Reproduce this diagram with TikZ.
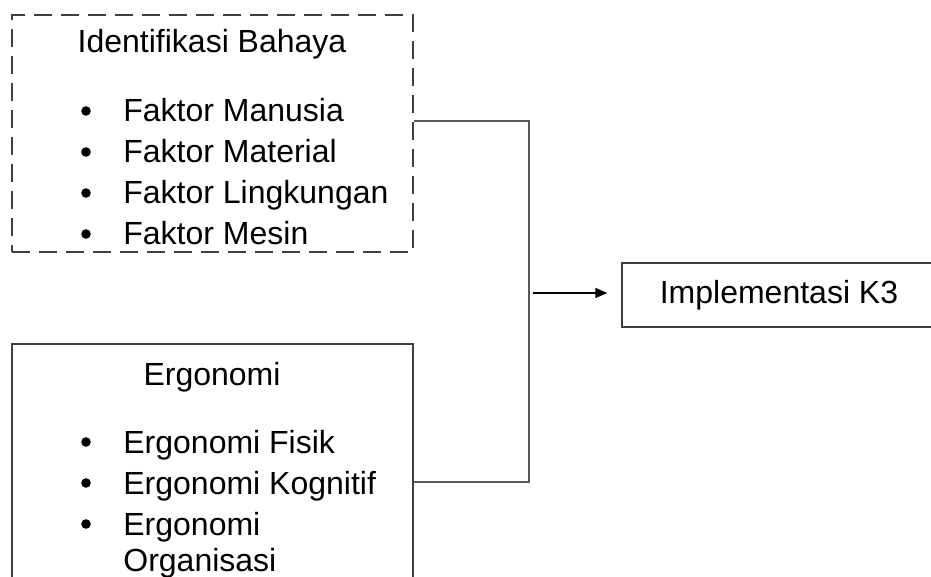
\documentclass[tikz,border=0pt]{standalone}
\usepackage{fontspec}
\setmainfont{Liberation Sans}
\usetikzlibrary{arrows.meta}

\tikzset{
  box/.style={draw=black!75, line width=0.7pt, rectangle, inner sep=0pt},
  dashbox/.style={box, dash pattern=on 9pt off 4.5pt},
  label/.style={font=\fontsize{16}{20}\selectfont, inner sep=0pt},
  item/.style={label, anchor=base west},
  link/.style={draw=black!65, line width=0.6pt},
  arr/.style={draw=black, line width=0.7pt, -{Triangle[length=6pt,width=5pt]}}
}

\begin{document}
\begin{tikzpicture}[x=0.5pt,y=-0.5pt]
\useasboundingbox (0,0) rectangle (931,577);
\clip (0,0) rectangle (931,577);

% boxes
\node[dashbox, minimum width=200.5pt, minimum height=118.5pt] (hazard) at (212.5,133.5) {};
\node[box, minimum width=200.5pt, minimum height=130pt] (ergo) at (212.5,474) {};
\node[box, minimum width=157pt, minimum height=32pt, label] (impl) at (779,295) {Implementasi K3};

% titles
\node[label, anchor=base] (hztitle) at (212,53) {Identifikasi Bahaya};
\node[label, anchor=base] (ergtitle) at (212,385) {Ergonomi};

% lists
\foreach \txt [count=\i] in {Faktor Manusia, Faktor Material, Faktor Lingkungan, Faktor Mesin} {
\node[item] (hz\i) at (123,81+41*\i) {\txt};
\fill (86,70+41*\i) circle (2.4pt);
}
\foreach \txt [count=\i] in {Ergonomi Fisik, Ergonomi Kognitif, Ergonomi} {
\node[item] (erg\i) at (123,412+41*\i) {\txt};
\fill (86,401+41*\i) circle (2.4pt);
}
\node[item] (erg4) at (123,571) {Organisasi};

% connectors
\coordinate (hzout) at (hazard.east |- 0,121);
\coordinate (ergout) at (ergo.east |- 0,482);
\coordinate (bus) at (529,293);
\draw[link] (hzout) -- (hzout -| bus) -- (ergout -| bus) -- (ergout);
\draw[arr, shorten <=2pt, shorten >=7pt] (bus) -- (bus -| impl.west);
\end{tikzpicture}
\end{document}
